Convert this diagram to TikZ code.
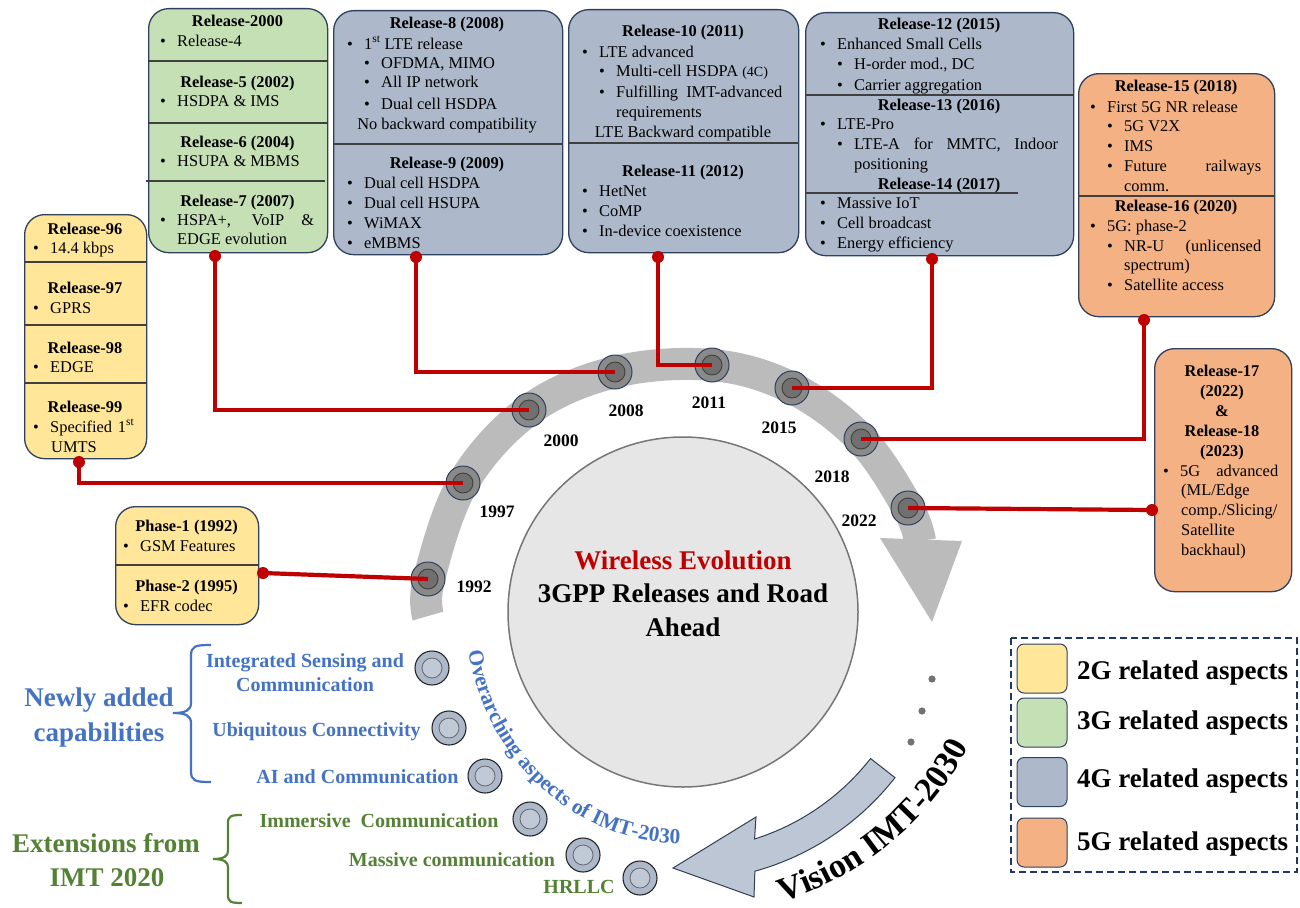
\documentclass[tikz,border=0pt]{standalone}
\usepackage{fontspec}
\setmainfont{Liberation Serif}
\usetikzlibrary{calc,decorations.text}
\definecolor{c2g}{RGB}{255,230,153}
\definecolor{c3g}{RGB}{197,224,180}
\definecolor{c4g}{RGB}{173,185,202}
\definecolor{c5g}{RGB}{244,177,131}
\definecolor{bordc}{RGB}{47,64,96}
\definecolor{divc}{RGB}{64,64,64}
\definecolor{myred}{RGB}{192,0,0}
\definecolor{bandc}{RGB}{187,187,187}
\definecolor{relout}{RGB}{138,138,138}
\definecolor{relin}{RGB}{112,112,112}
\definecolor{bigc}{RGB}{230,230,230}
\definecolor{bigb}{RGB}{118,118,118}
\definecolor{capblue}{RGB}{68,114,196}
\definecolor{capgreen}{RGB}{84,130,53}
\definecolor{aspout}{RGB}{173,185,202}
\definecolor{aspin}{RGB}{192,201,214}
\definecolor{visfill}{RGB}{188,198,213}
\definecolor{visline}{RGB}{50,62,84}
\definecolor{dotc}{RGB}{118,113,113}
\definecolor{legc}{RGB}{31,56,100}
\newcounter{ln}
\newcommand\fsz{\fontsize{16.4}{20}\selectfont}
\newcommand\Ttl[3]{\stepcounter{ln}\node[ttl] (ln\arabic{ln}) at (#1,#2) {#3};}
\newcommand\Ctr[3]{\stepcounter{ln}\node[ctr] (ln\arabic{ln}) at (#1,#2) {#3};}
\newcommand\Txt[3]{\stepcounter{ln}\node[txt] (ln\arabic{ln}) at (#1,#2) {#3};}
\newcommand\Itm[3]{\stepcounter{ln}\node[txt] (ln\arabic{ln}) at ({#1-3},#2) {\makebox[17pt][l]{\textbullet}#3};}
\begin{document}
\begin{tikzpicture}[x=1pt,y=-1pt,
  ttl/.style={anchor=base, inner sep=0pt, font=\fsz\bfseries},
  ctr/.style={anchor=base, inner sep=0pt, font=\fsz},
  txt/.style={anchor=base west, inner sep=0pt, font=\fsz},
  rbox/.style={draw=bordc, line width=1.3pt, rounded corners=20pt, anchor=north west, inner sep=0pt},
  divl/.style={draw=divc, line width=2pt},
  redl/.style={draw=myred, line width=4.2pt},
  reddot/.style={fill=myred},
  relc/.style={circle, draw=bordc, line width=1pt, fill=relout, minimum size=34pt, inner sep=0pt,
    path picture={\draw[draw=divc, line width=0.9pt, fill=relin] (path picture bounding box.center) circle[radius=10pt];}},
  aspc/.style={circle, draw=black!85, line width=1.1pt, fill=aspout, minimum size=34pt, inner sep=0pt,
    path picture={\draw[draw=black!60, line width=0.8pt, fill=aspin] (path picture bounding box.center) circle[radius=10pt];}},
  yearl/.style={inner sep=0pt, font=\fontsize{17.5}{20}\selectfont\bfseries},
  capt/.style={anchor=base, inner sep=0pt, font=\fontsize{20}{24}\selectfont\bfseries},
  bigt/.style={anchor=base, inner sep=0pt, font=\fontsize{27}{32}\selectfont\bfseries},
  swatch/.style={draw=bordc, line width=1pt, rounded corners=7pt, minimum width=50pt, minimum height=49pt, inner sep=0pt},
  legt/.style={anchor=base west, inner sep=0pt, font=\fontsize{27}{32}\selectfont\bfseries}
]
\useasboundingbox (0,0) rectangle (1300,907);
\coordinate (C) at (683,612);

% ---- timeline band ----
\draw[line width=32pt, draw=bandc] plot[smooth, tension=0.6] coordinates {(428,616) (429,579) (463,483) (529,410) (615,372) (712,365) (792,388) (861,439) (908,508) (920,541)};
\fill[bandc] (880,538) -- (962,541) -- (932,622) -- cycle;

% ---- central circle ----
\node[circle, draw=bigb, line width=1.5pt, fill=bigc, minimum size=350pt, inner sep=0pt] (core) at (C) {};
\node[bigt, text=myred] (w1) at (683,569) {Wireless Evolution};
\node[bigt] (w2) at (683,602) {3GPP Releases and Road};
\node[bigt] (w3) at (683,636) {Ahead};

% ---- Release-96..99 ----
\node[rbox, fill=c2g, minimum width=122pt, minimum height=244pt] (r96) at (24,214) {};
\draw[divl] (24,262) -- (146,262);
\draw[divl] (24,325) -- (146,325);
\draw[divl] (24,383) -- (146,383);
\Ttl{85}{234}{Release-96}
\Itm{36}{253}{14.4 kbps}
\Ttl{85}{293}{Release-97}
\Itm{36}{313}{GPRS}
\Ttl{85}{353}{Release-98}
\Itm{36}{372}{EDGE}
\Ttl{85}{412}{Release-99}
\Itm{36}{432}{\makebox[84pt][s]{Specified 1\textsuperscript{st}}}
\Txt{51}{452}{UMTS}

% ---- Phase box ----
\node[rbox, fill=c2g, minimum width=143pt, minimum height=118pt] (ph) at (115,506) {};
\draw[divl] (115,565) -- (258,565);
\Ttl{186.5}{531}{Phase-1 (1992)}
\Itm{126}{551}{GSM Features}
\Ttl{186.5}{591}{Phase-2 (1995)}
\Itm{126}{611}{EFR codec}

% ---- Release-2000 ----
\node[rbox, fill=c3g, minimum width=179pt, minimum height=244pt] (r2000) at (148,8) {};
\draw[divl] (148,61) -- (327,61);
\draw[divl] (148,123) -- (327,123);
\draw[divl] (146,181) -- (325,181);
\Ttl{237.5}{27}{Release-2000}
\Itm{163}{47}{Release-4}
\Ttl{237.5}{87}{Release-5 (2002)}
\Itm{163}{106}{HSDPA \& IMS}
\Ttl{237.5}{147}{Release-6 (2004)}
\Itm{163}{166}{HSUPA \& MBMS}
\Ttl{237.5}{206}{Release-7 (2007)}
\Itm{163}{225}{\makebox[137pt][s]{HSPA+, VoIP \&}}
\Txt{177}{244}{EDGE evolution}

% ---- Release-8/9 ----
\node[rbox, fill=c4g, minimum width=229pt, minimum height=244pt] (r8) at (333,10) {};
\draw[divl] (333,144) -- (562,144);
\Ttl{447}{29}{Release-8 (2008)}
\Itm{350}{49}{1\textsuperscript{st} LTE release}
\Itm{367}{68}{OFDMA, MIMO}
\Itm{367}{88}{All IP network}
\Itm{367}{109}{Dual cell HSDPA}
\Ctr{447}{129}{No backward compatibility}
\Ttl{447}{168}{Release-9 (2009)}
\Itm{350}{188}{Dual cell HSDPA}
\Itm{350}{208}{Dual cell HSUPA}
\Itm{350}{228}{WiMAX}
\Itm{350}{248}{eMBMS}

% ---- Release-10/11 ----
\node[rbox, fill=c4g, minimum width=230pt, minimum height=243pt] (r10) at (568,9) {};
\draw[divl] (568,143) -- (798,143);
\Ttl{683}{37}{Release-10 (2011)}
\Itm{585}{57}{LTE advanced}
\Itm{602}{77}{Multi-cell HSDPA {\fontsize{14}{16}\selectfont (4C)}}
\Itm{602}{97}{\makebox[166pt][s]{Fulfilling IMT-advanced}}
\Txt{616}{117}{requirements}
\Ctr{683}{137}{LTE Backward compatible}
\Ttl{683}{176}{Release-11 (2012)}
\Itm{585}{196}{HetNet}
\Itm{585}{216}{CoMP}
\Itm{585}{236}{In-device coexistence}

% ---- Release-12/13/14 ----
\node[rbox, fill=c4g, minimum width=268pt, minimum height=243pt] (r12) at (805,12) {};
\draw[divl] (805,95) -- (1073,95);
\draw[divl] (805,193) -- (1018,193);
\Ttl{939}{30}{Release-12 (2015)}
\Itm{823}{50}{Enhanced Small Cells}
\Itm{840}{70}{H-order mod., DC}
\Itm{840}{90}{Carrier aggregation}
\Ttl{939}{110}{Release-13 (2016)}
\Itm{823}{129}{LTE-Pro}
\Itm{840}{149}{\makebox[204pt][s]{LTE-A for MMTC, Indoor}}
\Txt{854}{169}{positioning}
\Ttl{939}{189}{Release-14 (2017)}
\Itm{823}{208}{Massive IoT}
\Itm{823}{228}{Cell broadcast}
\Itm{823}{248}{Energy efficiency}

% ---- Release-15/16 ----
\node[rbox, fill=c5g, minimum width=196pt, minimum height=243pt] (r15) at (1078,73) {};
\draw[divl] (1078,196) -- (1274,196);
\Ttl{1176}{92}{Release-15 (2018)}
\Itm{1093}{112}{First 5G NR release}
\Itm{1110}{131}{5G V2X}
\Itm{1110}{151}{IMS}
\Itm{1110}{171}{\makebox[137pt][s]{Future railways}}
\Txt{1124}{191}{comm.}
\Ttl{1176}{211}{Release-16 (2020)}
\Itm{1093}{231}{5G: phase-2}
\Itm{1110}{251}{\makebox[137pt][s]{NR-U (unlicensed}}
\Txt{1124}{270}{spectrum)}
\Itm{1110}{290}{Satellite access}

% ---- Release-17/18 ----
\node[rbox, fill=c5g, minimum width=137pt, minimum height=243pt] (r17) at (1154,348) {};
\Ttl{1222}{376}{Release-17}
\Ttl{1222}{396}{(2022)}
\Ttl{1222}{416}{\&}
\Ttl{1222}{436}{Release-18}
\Ttl{1222}{456}{(2023)}
\Itm{1166}{476}{\makebox[98pt][s]{5G advanced}}
\Txt{1181}{495}{(ML/Edge}
\Txt{1181}{515}{comp./Slicing/}
\Txt{1181}{535}{Satellite}
\Txt{1181}{555}{backhaul)}

% ---- release circles on the band ----
\node[relc] (y1992) at (428,579) {};
\node[relc] (y1997) at (463,483) {};
\node[relc] (y2000) at (529,410) {};
\node[relc] (y2008) at (615,372) {};
\node[relc] (y2011) at (712,365) {};
\node[relc] (y2015) at (792,388) {};
\node[relc] (y2018) at (861,439) {};
\node[relc] (y2022) at (908,508) {};

% ---- red connectors ----
\coordinate (dph) at (263,573);
\coordinate (d96) at (79,462);
\coordinate (d2000) at (215,256);
\coordinate (d8) at (416,257);
\coordinate (d10) at (658,257);
\coordinate (d12) at (932,259);
\coordinate (d15) at (1144,320);
\coordinate (d17) at (1152,510);
\draw[redl] (dph) -- (y1992.center);
\draw[redl] (d96) |- (y1997.center);
\draw[redl] (d2000) |- (y2000.center);
\draw[redl] (d8) |- (y2008.center);
\draw[redl] (d10) |- (y2011.center);
\draw[redl] (d12) |- (y2015.center);
\draw[redl] (d15) |- (y2018.center);
\draw[redl] (d17) -- (y2022.center);
\foreach \d in {dph,d96,d2000,d8,d10,d12,d15,d17} \fill[reddot] (\d) circle[radius=6];

% ---- year labels ----
\node[yearl] (l1992) at (474,587) {1992};
\node[yearl] (l1997) at (497,512) {1997};
\node[yearl] (l2000) at (561,441) {2000};
\node[yearl] (l2008) at (626,411) {2008};
\node[yearl] (l2011) at (709,403) {2011};
\node[yearl] (l2015) at (779,428) {2015};
\node[yearl] (l2018) at (832,477) {2018};
\node[yearl] (l2022) at (859,521) {2022};

% ---- IMT-2030 capabilities ----
\node[bigt, text=capblue] (nw1) at (99,706) {Newly added};
\node[bigt, text=capblue] (nw2) at (99,741) {capabilities};
\draw[capblue, line width=2.2pt] (211,645) .. controls (195,645) and (191,646) .. (191,656) -- (191,703) .. controls (191,710) and (186,713) .. (173,713) .. controls (186,713) and (191,716) .. (191,723) -- (191,771) .. controls (191,781) and (195,782) .. (211,782);
\node[capt, text=capblue] (i1a) at (305,667) {Integrated Sensing and};
\node[capt, text=capblue] (i1b) at (305,691) {Communication};
\node[capt, text=capblue] (i2) at (316.5,736) {Ubiquitous Connectivity};
\node[capt, text=capblue] (i3) at (357.5,783) {AI and Communication};

\node[bigt, text=capgreen] (ex1) at (106,852) {Extensions from};
\node[bigt, text=capgreen] (ex2) at (107,886) {IMT 2020};
\draw[capgreen, line width=2.2pt] (242,815) .. controls (231,815) and (228,816) .. (228,823) -- (228,851) .. controls (228,856) and (224,859) .. (213,859) .. controls (224,859) and (228,862) .. (228,867) -- (228,895) .. controls (228,902) and (231,903) .. (242,903);
\node[capt, text=capgreen] (e1) at (379,827) {Immersive\ \ Communication};
\node[capt, text=capgreen] (e2) at (452,866) {Massive communication};
\node[capt, text=capgreen] (e3) at (579,893) {HRLLC};

\node[aspc] (a1) at (432,668) {};
\node[aspc] (a2) at (449,728) {};
\node[aspc] (a3) at (485,776) {};
\node[aspc] (a4) at (530,819) {};
\node[aspc] (a5) at (583,855) {};
\node[aspc] (a6) at (640,878) {};

\path[decorate, decoration={text along path, text color=capblue,
   text={|\fontsize{21.5}{25}\selectfont\bfseries|Overarching aspects of IMT-2030},
   text align=left}]
   ($(C)+(170:218 and 230)$) arc[start angle=170, end angle=84, x radius=218, y radius=232];

% ---- Vision IMT-2030 arrow ----
\fill[dotc] (932,679) circle[radius=3.6];
\fill[dotc] (922,711) circle[radius=3.6];
\fill[dotc] (911,742) circle[radius=3.6];
\draw[draw=visline, line width=1pt, fill=visfill] ($(C)+(38:238)$) arc[start angle=38, end angle=72.5, radius=238] -- (756,817) -- (673,868) -- (754,897) -- ($(C)+(74.5:269)$) arc[start angle=74.5, end angle=38, radius=269] -- cycle;
\path[decorate, decoration={text along path,
   text={|\fontsize{34}{40}\selectfont\bfseries|Vision IMT-2030},
   text align=center}]
   ($(C)+(76:318 and 305)$) arc[start angle=76, end angle=22, x radius=318, y radius=305];

% ---- legend ----
\draw[draw=legc, line width=1.8pt, dash pattern=on 7pt off 4pt] (1011,638) rectangle (1297,872);
\node[swatch, fill=c2g] (s2) at (1042,668.5) {};
\node[swatch, fill=c3g] (s3) at (1042,722.5) {};
\node[swatch, fill=c4g] (s4) at (1042,782) {};
\node[swatch, fill=c5g] (s5) at (1042,842.5) {};
\node[legt] (t2) at (1077,679) {2G related aspects};
\node[legt] (t3) at (1077,729) {3G related aspects};
\node[legt] (t4) at (1077,787) {4G related aspects};
\node[legt] (t5) at (1077,850) {5G related aspects};
\end{tikzpicture}
\end{document}
